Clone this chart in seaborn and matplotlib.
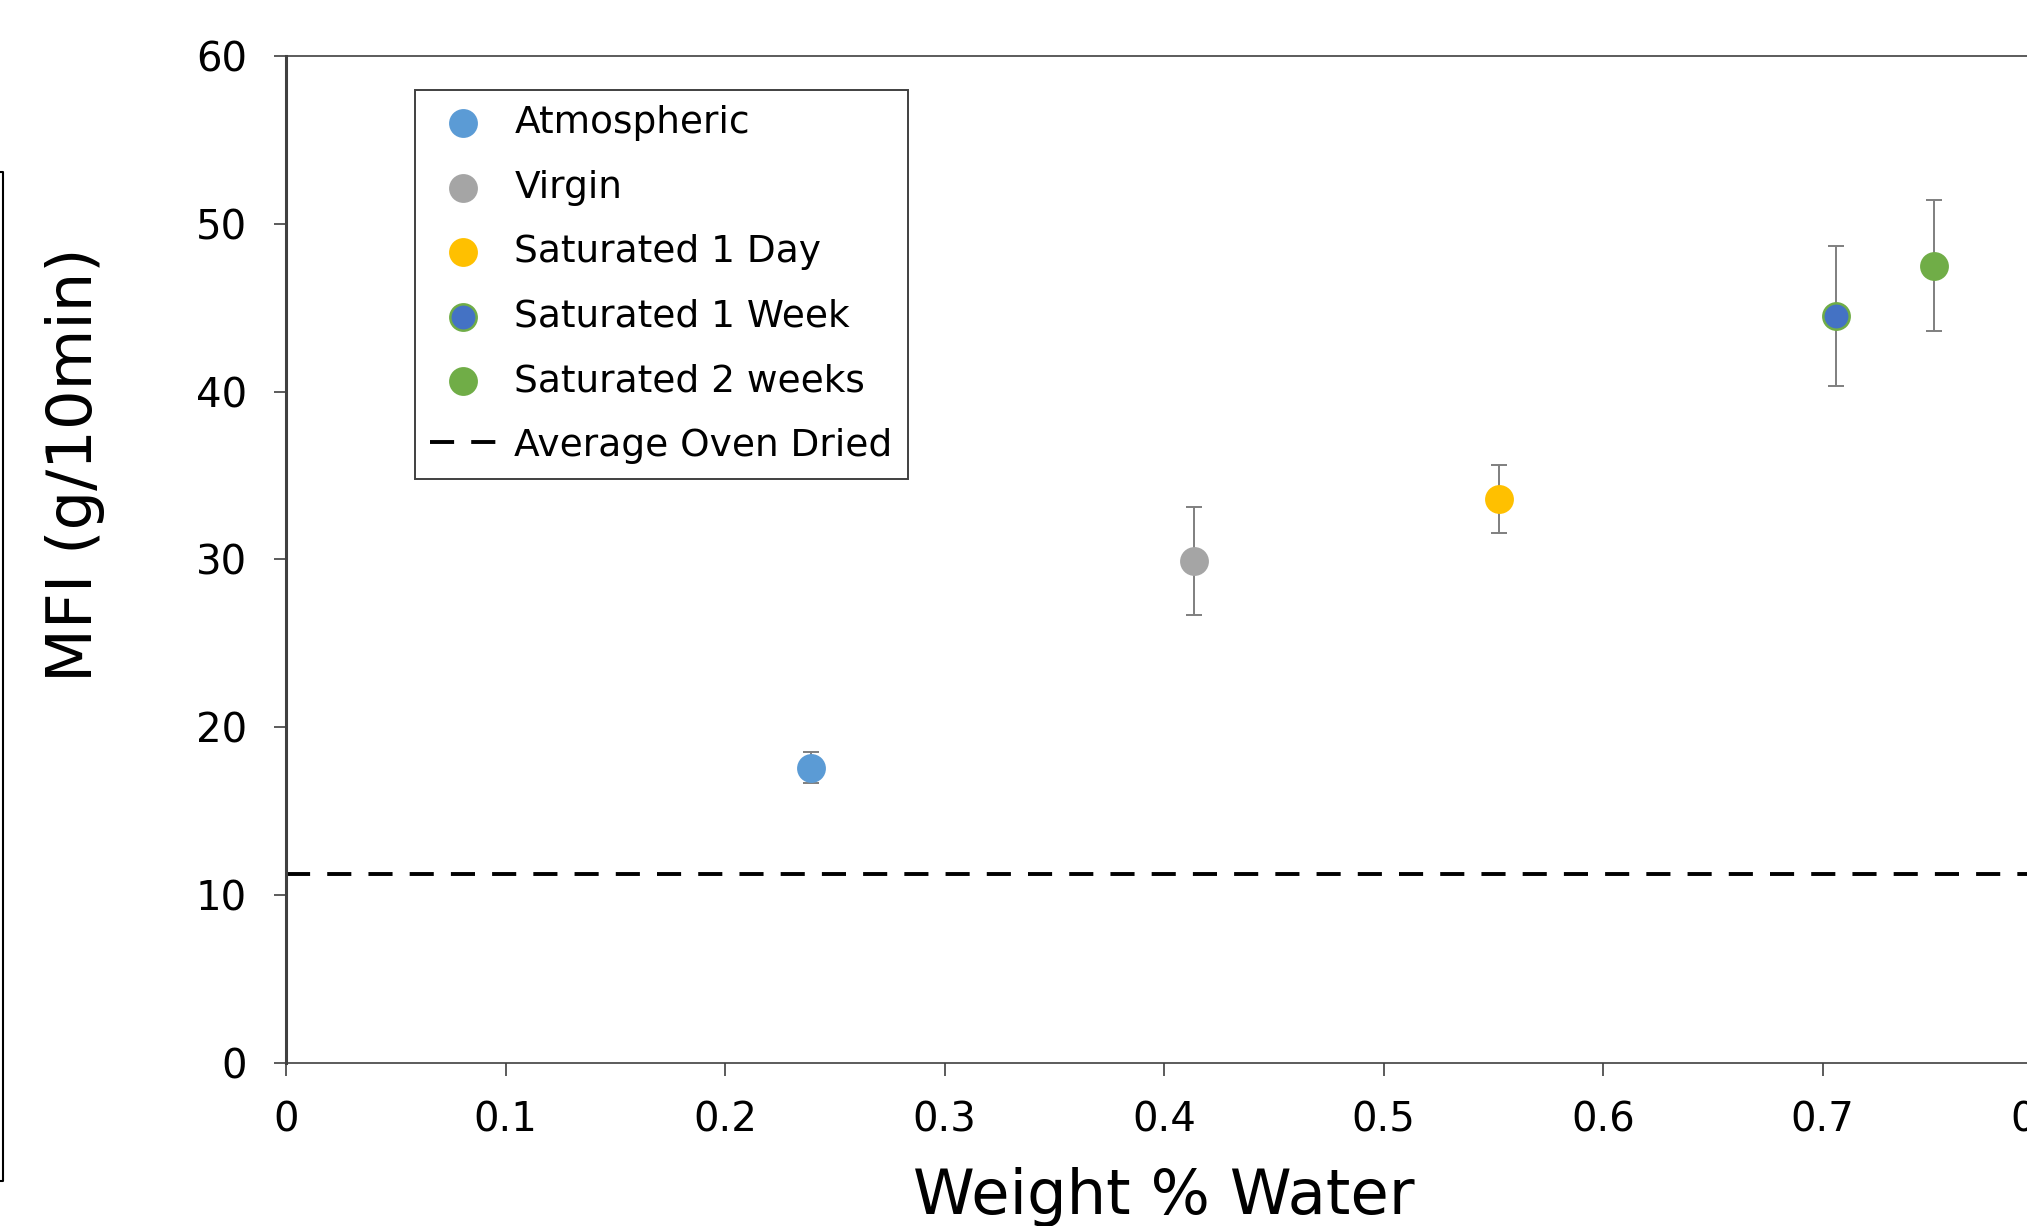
import pandas as pd
import seaborn as sns
import matplotlib.pyplot as plt
from matplotlib.lines import Line2D
from matplotlib.ticker import FuncFormatter, MultipleLocator

# values
groups = ["Atmospheric", "Virgin", "Saturated 1 Day", "Saturated 1 Week", "Saturated 2 weeks"]
water = [0.239, 0.4135, 0.5525, 0.706, 0.751]
mfi = [17.6, 29.9, 33.6, 44.5, 47.5]
mfi_err = [0.9, 3.2, 2.05, 4.15, 3.9]
oven_dried = 11.25

face = ["#5B9BD5", "#A5A5A5", "#FFC000", "#4472C4", "#70AD47"]
edge = ["#5B9BD5", "#A5A5A5", "#FFC000", "#70AD47", "#70AD47"]

df = pd.DataFrame({"group": groups, "water": water, "mfi": mfi, "err": mfi_err})

sns.set_style("white")
plt.rcParams["font.family"] = ["DejaVu Sans"]
plt.rcParams["text.color"] = "black"
plt.rcParams["axes.labelcolor"] = "black"
plt.rcParams["xtick.labelcolor"] = "black"
plt.rcParams["ytick.labelcolor"] = "black"

fig = plt.figure(figsize=(20.27, 12.26), dpi=100)
ax = fig.add_axes([0.1411, 0.1330, 0.8663, 0.8214])

ax.errorbar(df["water"], df["mfi"], yerr=df["err"], fmt="none",
            ecolor="#7F7F7F", elinewidth=1.4, capsize=5.5, capthick=1.4, zorder=2)

for g, fc, ec in zip(groups, face, edge):
    sns.scatterplot(data=df[df["group"] == g], x="water", y="mfi", s=360,
                    color=fc, edgecolor=ec, linewidth=1.8, label=g, ax=ax, zorder=3)

ax.axhline(oven_dried, color="black", lw=2.8, ls=(0, (6.2, 4.4)),
           label="Average Oven Dried", zorder=1)

ax.set_xlim(0, 0.8)
ax.set_ylim(0, 60)
ax.xaxis.set_major_locator(MultipleLocator(0.1))
ax.yaxis.set_major_locator(MultipleLocator(10))
ax.xaxis.set_major_formatter(FuncFormatter(lambda v, p: f"{v:g}"))

ax.tick_params(axis="both", which="major", labelsize=29, length=9, width=1.2,
               color="#404040", direction="out", bottom=True, left=True)
ax.tick_params(axis="y", pad=19)
ax.tick_params(axis="x", pad=18)

for side in ["top", "right", "bottom"]:
    ax.spines[side].set_color("#404040")
    ax.spines[side].set_linewidth(1.2)
ax.spines["left"].set_color("#404040")
ax.spines["left"].set_linewidth(2.2)

ax.set_xlabel("Weight % Water", fontsize=45, va="top")
ax.xaxis.set_label_coords(0.5, -0.103)
ax.set_ylabel("MFI (g/10min)", fontsize=45, va="center")
ax.yaxis.set_label_coords(-0.12, 0.594)

handles, labels = ax.get_legend_handles_labels()
leg = ax.legend(handles, labels, loc="upper left",
                bbox_to_anchor=(415 / 2027, 1 - 90 / 1226),
                bbox_transform=fig.transFigure, borderaxespad=0,
                fontsize=27, frameon=True, fancybox=False, framealpha=1,
                edgecolor="#404040", borderpad=0.4, labelspacing=0.76,
                handlelength=1.75, handletextpad=0.5, scatterpoints=1)
leg.get_frame().set_linewidth(1.4)

# edge of a neighbouring box cut off at the left of the image
fig.add_artist(Line2D([0.0, 2.5 / 2027, 2.5 / 2027, 0.0],
                      [1 - 172 / 1226, 1 - 172 / 1226, 1 - 1181 / 1226, 1 - 1181 / 1226],
                      transform=fig.transFigure, color="black", lw=1.5))

fig.savefig("out.png", dpi=100)
